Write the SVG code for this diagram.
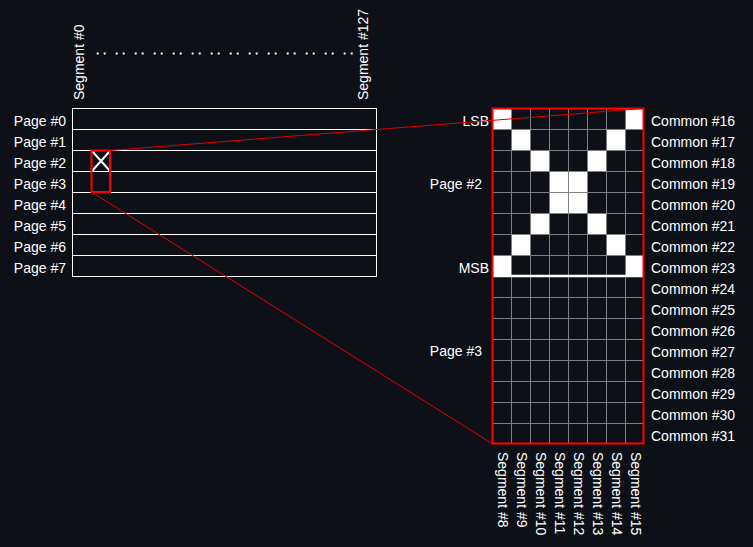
<svg xmlns="http://www.w3.org/2000/svg" width="753" height="547" viewBox="0 0 753 547">
<style>
text{font-family:"Liberation Sans",Arial,sans-serif;font-size:14px;fill:#ffffff}
.r{text-anchor:end}
.wl{stroke:#ffffff;stroke-width:1;fill:none}
.gl{stroke:#808080;stroke-width:1;fill:none}
.px{fill:#ffffff}
.red{stroke:#ff0000;stroke-width:2;fill:none}
.conn{stroke:#e00000;stroke-width:1;fill:none}
</style>
<rect x="0" y="0" width="753" height="547" fill="#0d1017"/>

<g id="top-labels">
<text transform="translate(83.5,100) rotate(-90)">Segment #0</text>
<text transform="translate(368,100) rotate(-90)">Segment #127</text>
<path d="M96.7 53.5 H353" stroke="#ffffff" stroke-width="2" stroke-dasharray="2 5 2 10" fill="none"/>
</g>

<g id="page-grid">
<rect class="wl" x="72.5" y="108.5" width="304" height="168"/>
<path class="wl" d="M72.5 129.5H376.5M72.5 150.5H376.5M72.5 171.5H376.5M72.5 192.5H376.5M72.5 213.5H376.5M72.5 234.5H376.5M72.5 255.5H376.5"/>
<path d="M92 151 L110 171 M110 151 L92 171" stroke="#ffffff" stroke-width="2" fill="none"/>
<rect class="red" x="91.5" y="150.5" width="18.5" height="41.5" stroke-width="1.8"/>
</g>

<g id="page-labels">
<text class="r" x="66" y="125.5">Page #0</text>
<text class="r" x="66" y="146.5">Page #1</text>
<text class="r" x="66" y="167.5">Page #2</text>
<text class="r" x="66" y="188.5">Page #3</text>
<text class="r" x="66" y="209.5">Page #4</text>
<text class="r" x="66" y="230.5">Page #5</text>
<text class="r" x="66" y="251.5">Page #6</text>
<text class="r" x="66" y="272.5">Page #7</text>
</g>

<g id="pixel-grid">
<rect x="492" y="108" width="152" height="336" fill="#0d1017"/>
<g class="px">
<rect x="492" y="108" width="19" height="21"/><rect x="625" y="108" width="19" height="21"/>
<rect x="511" y="129" width="19" height="21"/><rect x="606" y="129" width="19" height="21"/>
<rect x="530" y="150" width="19" height="21"/><rect x="587" y="150" width="19" height="21"/>
<rect x="549" y="171" width="38" height="42"/>
<rect x="530" y="213" width="19" height="21"/><rect x="587" y="213" width="19" height="21"/>
<rect x="511" y="234" width="19" height="21"/><rect x="606" y="234" width="19" height="21"/>
<rect x="492" y="255" width="19" height="21"/><rect x="625" y="255" width="19" height="21"/>
</g>
<path class="gl" d="M511.5 108V444M530.5 108V444M549.5 108V444M568.5 108V444M587.5 108V444M606.5 108V444M625.5 108V444
M492 129.5H644M492 150.5H644M492 171.5H644M492 192.5H644M492 213.5H644M492 234.5H644M492 255.5H644
M492 297.5H644M492 318.5H644M492 339.5H644M492 360.5H644M492 381.5H644M492 402.5H644M492 423.5H644"/>
<path d="M492 276H644" stroke="#ffffff" stroke-width="2.5" fill="none"/>
<rect class="red" x="492.5" y="108.5" width="151" height="335"/>
</g>

<g id="bit-labels">
<text class="r" x="489" y="125.5">LSB</text>
<text class="r" x="489" y="272.5">MSB</text>
<text class="r" x="482" y="188.5">Page #2</text>
<text class="r" x="482" y="356">Page #3</text>
</g>

<g id="common-labels">
<text x="651" y="125.5">Common #16</text>
<text x="651" y="146.5">Common #17</text>
<text x="651" y="167.5">Common #18</text>
<text x="651" y="188.5">Common #19</text>
<text x="651" y="209.5">Common #20</text>
<text x="651" y="230.5">Common #21</text>
<text x="651" y="251.5">Common #22</text>
<text x="651" y="272.5">Common #23</text>
<text x="651" y="293.5">Common #24</text>
<text x="651" y="314.5">Common #25</text>
<text x="651" y="335.5">Common #26</text>
<text x="651" y="356.5">Common #27</text>
<text x="651" y="377.5">Common #28</text>
<text x="651" y="398.5">Common #29</text>
<text x="651" y="419.5">Common #30</text>
<text x="651" y="440.5">Common #31</text>
</g>

<g id="segment-labels">
<text transform="translate(498,452) rotate(90)">Segment #8</text>
<text transform="translate(517,452) rotate(90)">Segment #9</text>
<text transform="translate(536,452) rotate(90)">Segment #10</text>
<text transform="translate(555,452) rotate(90)">Segment #11</text>
<text transform="translate(574,452) rotate(90)">Segment #12</text>
<text transform="translate(593,452) rotate(90)">Segment #13</text>
<text transform="translate(612,452) rotate(90)">Segment #14</text>
<text transform="translate(631,452) rotate(90)">Segment #15</text>
</g>

<g id="connectors">
<path class="conn" d="M110 150.5 L643 108.5"/>
<path class="conn" d="M91.5 192 L492 443.5"/>
</g>
</svg>
